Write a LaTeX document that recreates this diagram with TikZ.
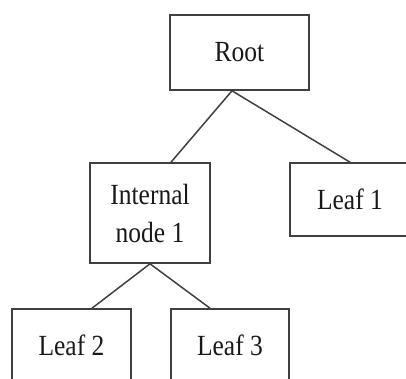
\documentclass[tikz,border=0pt]{standalone}
\usepackage{fontspec}
\setmainfont{Liberation Serif}
\usepackage{graphicx}
\newcommand\vstr[1]{\scalebox{1.02}[1.17]{#1}}
\begin{document}
\begin{tikzpicture}[x=1pt,y=1pt,
  box/.style={draw=black!75, line width=1.6pt, fill=white, inner sep=0pt,
    font=\fontsize{25}{38}\selectfont, text=black!90, align=center},
  link/.style={draw=black!75, line width=1.5pt}]
\useasboundingbox (0,0) rectangle (406,-379);
\clip (0,0) rectangle (406,-379);
\node[box, minimum width=139, minimum height=75] (root) at (239.5,-52.5) {\vstr{Root}};
\node[box, minimum width=120, minimum height=100] (int) at (150,-213) {\vstr{Internal}\\\vstr{node 1}};
\node[box, minimum width=120, minimum height=73] (leaf1) at (350,-199.5) {\vstr{Leaf 1}};
\node[box, minimum width=119, minimum height=73] (leaf2) at (71.5,-345.5) {\vstr{Leaf 2}};
\node[box, minimum width=118, minimum height=73] (leaf3) at (230,-345.5) {\vstr{Leaf 3}};
\coordinate (ra) at ([xshift=-7.5pt]root.south);
\coordinate (ia) at ([xshift=21pt]int.north);
\coordinate (l2a) at ([xshift=20.5pt]leaf2.north);
\coordinate (l3a) at ([xshift=-20pt]leaf3.north);
\draw[link] (ra) -- (ia);
\draw[link] (ra) -- (leaf1.north);
\draw[link] (int.south) -- (l2a);
\draw[link] (int.south) -- (l3a);
\end{tikzpicture}
\end{document}
